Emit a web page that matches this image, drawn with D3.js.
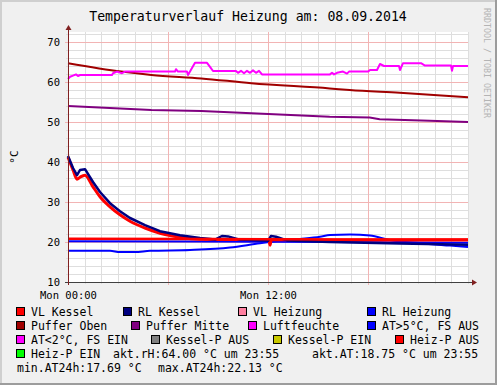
<!DOCTYPE html>
<html>
<head>
<meta charset="utf-8">
<script src="https://cdn.jsdelivr.net/npm/d3@7"></script>
<style>
  body { margin: 0; background: #f0f0f0; }
  text { font-family: "DejaVu Sans Mono", monospace; }
</style>
</head>
<body>
<svg id="chart" width="497" height="385"></svg>
<script>
// hours since Mon 00:00 -> value
var vlKessel = [[0,41.2],[0.3,38],[0.54,35.7],[0.72,36.2],[1.02,36.7],[1.5,33.8],[1.92,31.3],[2.52,28.8],
  [3.12,26.8],[3.72,25.2],[4.62,23.5],[5.52,22.2],[6.72,21.2],[7.92,20.7],[10,20.6],[12.05,20.6],
  [12.12,19.2],[12.2,20.6],[16,20.5],[24,20.5]];
var rlKessel = [[0,41.5],[0.3,38.5],[0.54,36.7],[0.72,38],[1.02,38.2],[1.5,35],[1.92,32.5],[2.52,29.7],
  [3.12,27.7],[3.72,26],[4.62,24.2],[5.52,22.7],[6.72,21.7],[7.92,21],[8.82,20.6],[9.24,21.5],[9.6,21.4],
  [10.3,20.6],[12.0,20.3],[12.18,21.5],[12.48,21.3],[13.14,20.4],[15.7,20.0],[19.9,19.6],[24,19.3]];
var vlHeizung = [[0,20.8],[8,20.75],[16,20.65],[24,20.6]];
var rlHeizung = [[0,20.2],[8,20.15],[16,20.0],[24,19.8]];
var pufferOben = [[0,64.7],[3.2,62.6],[5,61.75],[8,60.9],[11,59.7],[15.7,58.4],[16.9,58],[19.9,57.3],[24,56.2]];
var pufferMitte = [[0,54],[5,53],[8,52.75],[15.7,51.3],[18.1,51.1],[18.7,50.7],[21.7,50.3],[24,50]];
var luftfeuchte = [[0,60.75],[0.12,61.3],[0.3,61.6],[0.48,61.9],[0.6,61.5],[0.72,61.75],[1.02,61.75],
  [2.64,61.75],[2.7,62.2],[2.94,62.6],[3.24,62.2],[3.42,62.6],[4.32,62.6],[6.42,62.6],[6.48,63.2],
  [6.6,62.6],[7.14,62.6],[7.2,61.75],[7.44,63.5],[7.62,64.8],[8.34,64.8],[8.52,63.8],[8.7,62.75],
  [10.08,62.75],[10.2,62.3],[10.38,62.8],[10.56,62.2],[10.74,62.8],[10.92,62.3],[11.1,62.9],[11.28,62.3],
  [11.46,62.8],[11.64,61.9],[15.72,61.9],[15.84,62.3],[15.96,61.9],[16.14,62.3],[16.5,62.6],[16.74,62.1],
  [16.86,62.6],[18,62.6],[18.12,63],[18.54,63],[18.72,64.5],[18.96,64.0],[19.86,64.0],[19.92,63],
  [20.1,64.7],[21.18,64.7],[21.42,64.1],[22.98,64.1],[23.04,62.8],[23.1,64.0],[24,64.0]];
var aussenTemp = [[0,17.8],[2.52,17.8],[3.12,17.5],[4.0,17.5],[4.92,17.8],[7.32,18.0],[9.72,18.6],
  [11.52,19.7],[12.72,20.3],[13.92,20.75],[15.12,21.3],[15.72,21.75],[16.92,21.9],[18.12,21.6],
  [19.32,20.5],[21.12,19.7],[22.92,19.1],[24,18.75]];

var xLabelHours = [0, 12];
var xLabels = ["Mon 00:00", "Mon 12:00"];
var yTicks = [10, 20, 30, 40, 50, 60, 70];

var legendRows = [
  ["VL Kessel", "RL Kessel", "VL Heizung", "RL Heizung"],
  ["Puffer Oben", "Puffer Mitte", "Luftfeuchte", "AT>5°C, FS AUS"],
  ["AT<2°C, FS EIN", "Kessel-P AUS", "Kessel-P EIN", "Heiz-P AUS"],
  ["Heiz-P EIN"]
];
var legendColors = [
  ["#ff0000", "#000080", "#ff80a0", "#0000ff"],
  ["#a00000", "#800080", "#ff00ff", "#0000ff"],
  ["#ff00ff", "#808080", "#c8c800", "#ff0000"],
  ["#00ff00"]
];
var legendX = [[31, 138, 253, 382], [31, 146, 263, 382], [31, 166, 288, 410], [31]];
var gprintLines = [
  ["akt.rH:64.00 °C um 23:55", "akt.AT:18.75 °C um 23:55"],
  ["min.AT24h:17.69 °C", "max.AT24h:22.13 °C"]
];

var W = 497, H = 385;
var svg = d3.select("#chart");

var x = d3.scaleLinear().domain([0, 24]).range([68, 468]);
var y = d3.scaleLinear().domain([10, 72.5]).range([282, 32]);

// background + 3d border
svg.append("rect").attr("width", W).attr("height", H).attr("fill", "#f0f0f0");
svg.append("rect").attr("x", 0).attr("y", 0).attr("width", W).attr("height", 2).attr("fill", "#cfcfcf");
svg.append("rect").attr("x", 0).attr("y", 0).attr("width", 2).attr("height", H).attr("fill", "#cfcfcf");
svg.append("rect").attr("x", 0).attr("y", H - 2).attr("width", W).attr("height", 2).attr("fill", "#9c9c9c");
svg.append("rect").attr("x", W - 2).attr("y", 0).attr("width", 2).attr("height", H).attr("fill", "#9c9c9c");

svg.append("rect").attr("x", x(0)).attr("y", y(72.5))
  .attr("width", x(24) - x(0)).attr("height", y(10) - y(72.5)).attr("fill", "#fff");

// grid
var minorH = d3.range(1, 25).filter(function(h) { return h % 6 !== 0 || h === 24; });
var majorH = [6, 12, 18];
var minorV = d3.range(12, 73, 2).filter(function(v) { return v % 10 !== 0; });
var majorV = d3.range(20, 71, 10);

var grid = svg.append("g").attr("shape-rendering", "crispEdges");
grid.selectAll(".mv").data(minorH).enter().append("line")
  .attr("x1", function(d) { return Math.round(x(d)) + 0.5; })
  .attr("x2", function(d) { return Math.round(x(d)) + 0.5; })
  .attr("y1", y(72.5)).attr("y2", y(10) + 2)
  .attr("stroke", "#dedede");
grid.selectAll(".mh").data(minorV).enter().append("line")
  .attr("y1", function(d) { return Math.round(y(d)) + 0.5; })
  .attr("y2", function(d) { return Math.round(y(d)) + 0.5; })
  .attr("x1", x(0) - 2).attr("x2", x(24))
  .attr("stroke", "#dedede");
grid.selectAll(".Mv").data(majorH).enter().append("line")
  .attr("x1", function(d) { return Math.round(x(d)) + 0.5; })
  .attr("x2", function(d) { return Math.round(x(d)) + 0.5; })
  .attr("y1", y(72.5)).attr("y2", y(10) + 3)
  .attr("stroke", "#f2b4b4");
grid.selectAll(".Mh").data(majorV).enter().append("line")
  .attr("y1", function(d) { return Math.round(y(d)) + 0.5; })
  .attr("y2", function(d) { return Math.round(y(d)) + 0.5; })
  .attr("x1", x(0) - 3).attr("x2", x(24))
  .attr("stroke", "#f2b4b4");

// series
var line = d3.line()
  .x(function(d) { return x(d[0]); })
  .y(function(d) { return y(d[1]); });
var smooth = d3.line()
  .x(function(d) { return x(d[0]); })
  .y(function(d) { return y(d[1]); })
  .curve(d3.curveMonotoneX);

var plot = svg.append("g");
function drawSeries(data, color, width, gen) {
  plot.append("path").datum(data)
    .attr("fill", "none").attr("stroke", color)
    .attr("stroke-width", width).attr("stroke-linejoin", "round")
    .attr("d", gen);
}
drawSeries(aussenTemp, "#0000ff", 2, smooth);
drawSeries(rlHeizung, "#0000ff", 2, line);
drawSeries(vlKessel, "#ff0000", 3, smooth);
drawSeries(rlKessel, "#000080", 2.5, line);
drawSeries(vlHeizung, "#ff0000", 2.5, line);
drawSeries(pufferOben, "#a00000", 2, smooth);
drawSeries(pufferMitte, "#800080", 2, line);
drawSeries(luftfeuchte, "#ff00ff", 2, line);

// axes
var axisColor = "#802020";
var xAxis = d3.axisBottom(x).tickValues(xLabelHours)
  .tickFormat(function(d, i) { return xLabels[i]; }).tickSize(0).tickPadding(10);
var gx = svg.append("g").attr("transform", "translate(0," + y(10) + ")").call(xAxis);
gx.select(".domain").remove();
gx.selectAll("text").attr("font-family", "DejaVu Sans Mono").attr("font-size", "10.5px").attr("fill", "#000");

var yAxis = d3.axisLeft(y).tickValues(yTicks).tickSize(0).tickPadding(8);
var gy = svg.append("g").attr("transform", "translate(" + x(0) + ",0)").call(yAxis);
gy.select(".domain").remove();
gy.selectAll("text").attr("font-family", "DejaVu Sans Mono").attr("font-size", "10.5px").attr("fill", "#000");

svg.append("line").attr("x1", x(0) - 3).attr("x2", 472).attr("y1", y(10) + 0.5).attr("y2", y(10) + 0.5)
  .attr("stroke", "#404040").attr("shape-rendering", "crispEdges");
svg.append("path").attr("d", "M472,279.5L477,282.5L472,285.5Z").attr("fill", axisColor);
svg.append("line").attr("x1", x(0) + 0.5).attr("x2", x(0) + 0.5).attr("y1", y(10) + 3).attr("y2", 29)
  .attr("stroke", axisColor).attr("shape-rendering", "crispEdges");
svg.append("path").attr("d", "M65.5,30L68.5,25L71.5,30Z").attr("fill", axisColor);

// title, unit, watermark
svg.append("text").attr("x", 248).attr("y", 21).attr("text-anchor", "middle")
  .attr("font-size", "13.2px").text("Temperaturverlauf Heizung am: 08.09.2014");
svg.append("text").attr("transform", "translate(18,157) rotate(-90)").attr("text-anchor", "middle")
  .attr("font-size", "11px").text("°C");
svg.append("text").attr("transform", "translate(484,8) rotate(90)")
  .attr("font-size", "8.3px").attr("fill", "#b4b4b4").text("RRDTOOL / TOBI OETIKER");

// legend
var rowY = [316, 330, 344, 358, 372];
var legend = svg.append("g").attr("font-size", "11.5px");
legendRows.forEach(function(row, r) {
  row.forEach(function(label, i) {
    var tx = legendX[r][i];
    legend.append("rect").attr("x", tx - 14.5).attr("y", rowY[r] - 8.5).attr("width", 8).attr("height", 8)
      .attr("fill", legendColors[r][i]).attr("stroke", "#000").attr("stroke-width", 1);
    legend.append("text").attr("x", tx).attr("y", rowY[r]).text(label);
  });
});
legend.append("text").attr("x", 113).attr("y", rowY[3]).text(gprintLines[0][0]);
legend.append("text").attr("x", 312).attr("y", rowY[3]).text(gprintLines[0][1]);
legend.append("text").attr("x", 17).attr("y", rowY[4]).text(gprintLines[1][0]);
legend.append("text").attr("x", 158).attr("y", rowY[4]).text(gprintLines[1][1]);
</script>
</body>
</html>
